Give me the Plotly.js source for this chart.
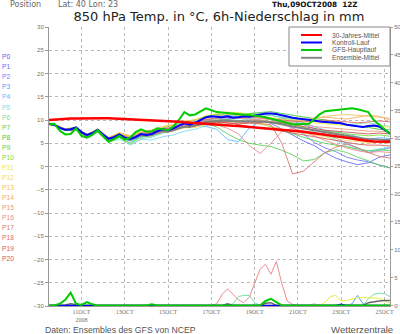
<!DOCTYPE html>
<html><head><meta charset="utf-8">
<script src="https://cdn.plot.ly/plotly-3.0.1.min.js"></script>
<style>html,body{margin:0;padding:0;background:#fff}#chart{width:400px;height:334px}</style>
</head><body><div id="chart"></div>
<script>
// ---------- DATA ----------
const runStart = Date.UTC(2008, 9, 9, 12);           // Thu 09OCT2008 12Z
const tickDates  = ['2008-10-11','2008-10-13','2008-10-15','2008-10-17','2008-10-19','2008-10-21','2008-10-23','2008-10-25'];
const tickLabels = ['11OCT<br>2008','13OCT','15OCT','17OCT','19OCT','21OCT','23OCT','25OCT'];
const memberLabels = ['P0','P1','P2','P3','P4','P5','P6','P7','P8','P9','P10','P11','P12','P13','P14','P15','P16','P17','P18','P19','P20'];
const memberColors = ['#5c5cf0','#6a6aff','#7878ff','#5a9cff','#5cbcff','#7cdcf0','#7ce0a8','#5cd05c','#3cc83c','#50d850','#78e040','#ecec40','#f4d860','#f4c460','#f4ac6c','#ec9c7c','#ec8c8c','#d47c74','#dc6c6c','#d46060','#cc5858'];

// 6-hourly main lines (°C)
const climMean = [10.0,10.1,10.15,10.2,10.3,10.3,10.35,10.4,10.4,10.4,10.4,10.4,10.35,10.3,10.25,10.2,10.15,10.1,10.05,10.0,9.9,9.85,9.8,9.7,9.6,9.5,9.4,9.3,9.2,9.15,9.05,9.0,8.9,8.85,8.75,8.7,8.6,8.55,8.45,8.4,8.3,8.2,8.1,8.0,7.9,7.75,7.6,7.45,7.3,7.15,7.0,6.8,6.6,6.45,6.3,6.15,6.0,5.8,5.6,5.5,5.4,5.35,5.3,5.3];
const controlRun = [9.2,9.0,8.3,7.9,8.0,8.4,7.4,6.8,7.2,7.9,6.9,6.0,6.3,6.9,6.2,5.9,6.3,7.0,6.8,7.0,7.6,8.0,7.8,8.2,8.8,9.3,9.0,9.4,10.0,10.6,10.8,10.7,10.6,10.8,10.5,10.6,10.8,10.7,10.9,11.2,11.4,11.4,11.3,11.0,10.7,10.5,10.3,10.2,10.0,9.9,9.7,9.6,9.4,9.3,9.3,9.0,8.8,8.6,8.5,8.7,8.8,8.6,7.8,7.1];
const mainRun = [9.1,9.2,7.7,6.9,7.0,8.2,6.6,6.2,6.8,7.8,6.5,5.3,5.9,6.6,5.8,6.2,7.4,8.0,7.5,7.6,8.2,8.0,7.8,8.6,10.0,11.7,11.0,11.2,11.8,12.5,12.1,11.7,11.6,11.5,11.4,11.3,11.2,11.0,10.9,10.8,10.6,10.3,10.0,9.7,9.4,9.1,9.1,9.1,9.2,10.2,11.2,11.9,12.0,12.1,12.3,12.4,12.5,12.3,12.0,11.7,10.0,9.0,7.9,7.0];
const ensMean = [9.1,8.9,8.3,7.9,7.8,8.1,7.2,6.6,7.0,7.7,6.6,5.8,6.1,6.6,5.9,5.8,6.3,6.8,6.6,6.9,7.4,7.6,7.5,7.9,8.3,8.6,8.5,8.8,9.2,9.6,9.7,9.8,9.9,9.9,9.8,9.8,9.7,9.7,9.8,9.7,9.6,9.5,9.3,9.1,8.8,8.6,8.4,8.2,8.0,7.8,7.6,7.3,7.1,6.9,6.7,6.5,6.3,6.1,6.0,5.9,5.8,5.8,5.7,5.7];

// 6-hourly precipitation (mm)
const mainRunPrecip = [0,0,0.3,1.0,2.3,0.3,0.1,0.6,0.2,0,0,0,0,0,0,0,0,0,0,0.2,0,0,0,0,0,0,0,0,0,0,0,0,0,0,0,0,0,0,0,0,0.8,1.2,0.6,0,0,0,0,0,0,0,0,0,0,0,0,0,0,0,0,0,0,0,0,0];
const ensMeanPrecip = [0,0,0,0.1,0.3,0.1,0,0,0,0,0,0,0,0,0,0,0,0,0,0,0,0,0,0,0,0,0,0,0,0,0,0,0,0.3,0,0,0,0,0,0,0.4,0.5,0,0,0,0,0,0,0,0,0,0,0,0,0,0,0,0,0,0.5,0.7,0.8,0.9,0.9];
const controlPrecip = [0,0,0,0,0,0,0,0,0,0,0,0,0,0,0,0,0,0,0,0,0,0,0,0,0,0,0,0,0,0,0,0,0,0,0,0,0,0,0,0,0,0,0,0,0,0,0,0,0,0,0,0,0,0,0.2,0,0,0,0,0,0,0,0,0];
const p3Precip  = [0,0,0,0,0,0,0,0,0,0,0,0,0,0,0,0,0,0,0,0,0,0,0,0,0,0,0,0,0,0,0,0,0,0,0,0,0,0,0,0,0,0,0,0,0,0,0,0,0,0,0,0,0,0,0,0,0.3,1.8,0.3,0,0,0,0,0];
const p6Precip  = [0,0,0,0,0,0,0,0,0,0,0,0,0,0,0,0,0,0,0,0,0,0,0,0,0,0,0,0,0,0,0,0,0,0,0.3,1.6,1.8,1.8,0.5,0,0,0,0,0,0,0,0,0,0,0,0,0,0,0,0,0,0,0,0,1.2,2.0,2.2,2.1,1.6];
const p11Precip = [0,0,0,0,0,0,0,0,0,0,0,0,0,0,0,0,0,0,0,0,0,0,0,0,0,0,0,0,0,0,0,0,0,0,0,0,0,0,0,0,0,0,0,0,0,0,0,0,0,0,0,0.6,1.6,1.8,0.8,0.9,1.2,1.4,1.4,1.4,1.3,1.3,0.8,0.4];
const p14Precip = [0,0,0,0,0,0,0,0,0,0,0,0,0,0,0,0,0,0,0,0,0,0,0,0,0,0,0,0,0,0,0,0,0,0,0,0,0,0,0,0,0,0,0,0,0,0,0,0,0,0.3,0,0,0,0,0,0,0,0,0,0,0,0,0,0];
const p16Precip = [0,0,0,0,0,0,0,0,0,0,0,0,0,0,0,0,0,0,0,0,0,0,0,0,0,0,0,0,0,0,0,0.3,2.0,3.0,2.0,1.0,0.5,1.5,4.0,6.5,7.4,5.6,7.9,4.0,0.8,0.2,0,0,0,0,0,0,0,0,0,0,0,0,0,0,0,0,0,0];

// ensemble members P1..P20 (°C), at run start then every 12 h (06Z / 18Z)
const p1  = [9.2,8.9,7.9,8.2,6.7,7.8,5.9,6.8,6.0,7.0,7.2,7.9,8.3,9.0,9.2,10.0,10.3,10.5,10.4,10.2,10.0,9.3,8.0,6.8,5.5,4.5,3.0,1.8,1.0,0.4,0.8,2.0,2.5];
const p2  = [9.1,8.8,7.8,8.0,6.5,7.6,5.6,6.4,5.5,6.5,6.7,7.3,7.7,8.4,8.7,9.4,9.9,10.2,10.6,11.0,10.8,10.2,9.2,8.3,7.0,5.2,4.0,3.2,2.0,1.4,1.0,0.4,-0.3];
const p3  = [9.1,8.9,8.0,8.3,6.8,7.9,6.0,6.9,6.2,7.2,7.4,8.1,8.6,9.3,9.6,10.4,10.9,11.0,10.7,10.9,11.2,11.0,10.5,9.8,9.0,8.2,7.0,6.1,5.0,4.0,3.0,3.5,4.0];
const p4  = [9.1,8.9,7.9,8.1,6.6,7.6,5.7,6.4,5.4,6.3,6.6,7.4,7.9,8.8,9.0,8.6,8.0,5.8,5.3,8.3,9.6,10.2,10.4,10.0,9.4,8.6,7.8,7.4,7.0,6.4,5.8,6.2,6.0];
const p5  = [9.2,9.0,8.0,8.2,6.7,7.5,5.4,6.2,4.6,5.8,5.7,6.4,6.8,7.6,8.0,8.8,9.2,9.6,9.8,10.3,10.5,10.4,10.0,9.6,8.6,7.4,6.6,5.6,4.4,3.6,3.2,3.8,4.2];
const p6  = [9.1,8.8,7.7,7.9,6.4,7.3,5.2,5.9,4.8,6.0,6.3,7.2,7.7,8.5,9.0,9.9,10.4,10.8,11.2,11.4,11.3,11.0,10.6,10.2,10.0,9.8,9.6,9.3,9.0,9.2,9.4,9.0,8.6];
const p7  = [9.1,8.8,7.8,8.0,6.4,7.4,5.5,6.3,5.0,6.4,6.6,7.5,7.8,8.6,8.8,9.2,8.5,7.0,5.8,5.0,4.6,4.3,3.5,2.5,1.2,1.5,3.0,3.6,3.0,2.0,1.2,0.3,-0.3];
const p8  = [9.2,9.0,8.1,8.4,6.9,8.0,6.2,7.1,6.4,7.4,7.6,8.3,8.9,9.6,10.0,10.8,11.2,11.3,11.0,11.4,11.6,11.8,11.4,11.0,10.6,10.3,10.0,9.6,9.0,8.6,8.4,8.0,7.9];
const p9  = [9.1,8.9,7.9,8.1,6.5,7.7,5.7,6.5,5.6,6.7,6.8,7.6,7.9,8.7,8.9,9.7,10.0,10.1,9.9,9.6,9.2,8.6,7.8,7.0,6.3,5.6,5.0,4.6,4.2,3.8,3.4,3.6,3.4];
const p10 = [9.1,8.9,7.9,8.1,6.6,7.8,5.9,6.7,5.9,6.9,7.0,7.7,8.0,8.6,8.7,9.4,9.6,9.7,9.5,9.6,9.8,9.7,9.4,9.0,8.4,7.8,7.6,7.4,7.0,6.8,6.6,6.8,6.5];
const p11 = [9.2,9.0,8.1,8.4,6.9,8.1,6.3,7.2,6.6,7.6,7.8,8.5,9.0,9.7,10.1,10.9,11.4,11.7,11.6,11.2,10.8,10.5,10.2,10.0,9.6,9.4,9.2,9.0,8.8,8.6,8.6,8.5,8.5];
const p12 = [9.1,8.9,7.8,8.0,6.5,7.5,5.6,6.5,5.7,6.7,6.9,7.4,7.7,8.3,8.4,9.0,9.3,9.6,9.8,9.5,9.1,8.7,8.0,7.6,7.2,6.8,6.4,6.0,5.6,5.4,5.0,5.2,5.0];
const p13 = [9.2,9.0,8.0,8.3,6.8,8.0,6.2,7.3,6.6,7.6,7.8,8.6,9.0,9.8,10.0,10.6,10.9,11.2,11.0,10.8,10.5,10.3,10.0,9.8,9.9,10.4,10.8,11.0,11.2,11.0,10.8,10.6,10.4];
const p14 = [9.2,9.0,8.0,8.2,6.7,7.9,6.1,7.0,6.3,7.3,7.5,8.2,8.6,9.2,9.4,10.2,10.5,10.6,10.4,10.2,10.0,9.6,9.4,9.6,10.0,10.4,10.6,10.4,10.2,10.6,11.0,10.8,10.0];
const p15 = [9.1,8.9,7.9,8.1,6.6,7.7,5.9,6.8,6.0,7.0,7.2,7.8,8.1,8.8,9.1,9.8,10.0,9.9,9.6,9.8,10.0,10.1,9.8,9.4,9.0,8.6,8.4,8.2,8.0,7.8,7.6,7.6,7.4];
const p16 = [9.1,8.9,7.9,8.0,6.5,7.6,5.7,6.6,5.8,6.8,7.0,7.6,8.0,8.7,8.9,9.4,9.0,8.2,7.0,4.5,2.8,5.0,7.5,8.2,7.6,6.6,5.6,4.8,4.0,3.4,3.0,3.2,3.0];
const p17 = [9.1,8.9,7.8,8.0,6.5,7.6,5.7,6.5,5.7,6.7,6.8,7.5,7.9,8.6,8.9,9.6,9.8,9.7,9.6,9.4,9.2,9.0,5.0,-1.6,-1.0,1.0,3.0,4.2,4.8,4.0,3.0,2.2,1.8];
const p18 = [9.2,9.0,8.0,8.2,6.7,7.8,6.0,6.9,6.1,7.1,7.3,8.0,8.4,9.1,9.4,10.1,10.4,10.6,10.5,10.6,10.4,10.2,10.0,9.8,9.6,9.8,10.0,9.8,9.6,9.4,9.6,9.8,9.6];
const p19 = [9.1,8.9,7.9,8.1,6.6,7.7,5.8,6.7,5.9,6.9,7.0,7.7,8.0,8.6,8.8,9.5,9.6,9.4,9.0,8.6,8.2,8.0,7.6,7.2,6.8,6.4,6.0,5.6,5.2,4.8,4.6,4.6,4.4];
const p20 = [9.1,8.9,7.8,8.1,6.5,7.6,5.6,6.6,5.8,6.8,7.0,7.6,7.9,8.5,8.7,9.3,9.5,9.4,9.2,9.3,9.4,9.6,9.4,9.0,8.6,8.2,7.8,7.6,7.4,7.2,7.0,7.2,7.0];

const legendNames  = ['30-Jahres-Mittel','Kontroll-Lauf','GFS-Hauptlauf','Ensemble-Mittel'];
const legendColors = ['#ff0000','#0000ff','#00cc00','#888888'];

// ---------- BUILD ----------
function stamp(h){ return new Date(runStart + h*3600000).toISOString().slice(0,16).replace('T',' '); }
const hoursMain = []; for (let h = 0; h <= 378; h += 6) hoursMain.push(h);
const hoursMember = [0]; for (let h = 6; h <= 378; h += 12) hoursMember.push(h);
const tMain = hoursMain.map(stamp), tMem = hoursMember.map(stamp);

const members = [p1,p2,p3,p4,p5,p6,p7,p8,p9,p10,p11,p12,p13,p14,p15,p16,p17,p18,p19,p20];
const memberPrecip = {3:p3Precip, 6:p6Precip, 11:p11Precip, 14:p14Precip, 16:p16Precip};

const traces = [];
Object.keys(memberPrecip).forEach(k => {
  traces.push({x:tMain, y:memberPrecip[k], yaxis:'y2', mode:'lines', line:{color:memberColors[+k], width:1}, hoverinfo:'skip'});
});
members.forEach((m,i) => {
  traces.push({x:tMem, y:m, mode:'lines', line:{color:memberColors[i+1], width:0.9}, hoverinfo:'skip'});
});
traces.push({x:tMain, y:ensMeanPrecip, yaxis:'y2', mode:'lines', line:{color:'#666666', width:1.5}, hoverinfo:'skip'});
traces.push({x:tMain, y:controlPrecip, yaxis:'y2', mode:'lines', line:{color:'#0000ff', width:1.5}, hoverinfo:'skip'});
traces.push({x:tMain, y:mainRunPrecip, yaxis:'y2', mode:'lines', line:{color:'#00cc00', width:2}, hoverinfo:'skip'});
traces.push({x:tMain, y:ensMean, mode:'lines', line:{color:'#808080', width:2}, name:legendNames[3]});
traces.push({x:tMain, y:controlRun, mode:'lines', line:{color:'#0000ff', width:2}, name:legendNames[1]});
traces.push({x:tMain, y:mainRun, mode:'lines', line:{color:'#00cc00', width:2}, name:legendNames[2]});
traces.push({x:tMain, y:climMean, mode:'lines', line:{color:'#ff0000', width:2.5}, name:legendNames[0]});

// pixel helpers (plot area 49..390 x 27..306)
const PL=49, PR=390, PT=27, PB=306;
const px = x => (x-PL)/(PR-PL), py = y => (PB-y)/(PB-PT);

const ann = [];
memberLabels.forEach((lab,i) => ann.push({xref:'paper', yref:'paper', x:px(1), y:py(56.7+10.07*i), xanchor:'left', yanchor:'middle', text:lab, showarrow:false, borderpad:0, font:{family:'Liberation Sans', size:6.7, color:memberColors[i]}}));
ann.push({xref:'paper', yref:'paper', x:px(9), y:py(4), xanchor:'left', yanchor:'middle', text:'Position', showarrow:false, borderpad:0, font:{family:'DejaVu Sans', size:8, color:'#666'}});
ann.push({xref:'paper', yref:'paper', x:px(57), y:py(4), xanchor:'left', yanchor:'middle', text:'Lat: 40 Lon: 23', showarrow:false, borderpad:0, font:{family:'DejaVu Sans', size:8, color:'#666'}});
ann.push({xref:'paper', yref:'paper', x:px(271), y:py(4), xanchor:'left', yanchor:'middle', text:'Thu,09OCT2008  12Z', showarrow:false, borderpad:0, font:{family:'DejaVu Sans', size:7.3, weight:'bold', color:'#111'}});
ann.push({xref:'paper', yref:'paper', x:px(44), y:py(329.5), xanchor:'left', yanchor:'middle', text:'Daten: Ensembles des GFS von NCEP', showarrow:false, borderpad:0, font:{family:'Liberation Sans', size:8.7, color:'#555'}});
ann.push({xref:'paper', yref:'paper', x:px(394), y:py(329.5), xanchor:'right', yanchor:'middle', text:'Wetterzentrale', showarrow:false, borderpad:0, font:{family:'Liberation Sans', size:9.6, color:'#555'}});
const legY = [35, 42.5, 50, 57.8];
const shapes = [{type:'rect', xref:'paper', yref:'paper', x0:px(289), x1:px(390), y0:py(66), y1:py(27), fillcolor:'#ffffff', line:{color:'#888', width:1}, layer:'above'}];
legendNames.forEach((n,i) => {
  shapes.push({type:'line', xref:'paper', yref:'paper', x0:px(301), x1:px(322), y0:py(legY[i]), y1:py(legY[i]), line:{color:legendColors[i], width:2}, layer:'above'});
  ann.push({xref:'paper', yref:'paper', x:px(331), y:py(legY[i]), xanchor:'left', yanchor:'middle', text:n, showarrow:false, borderpad:0, font:{family:'Liberation Sans', size:6.6, color:'#555'}});
});

const tickFont = {family:'Liberation Sans', size:6, color:'#707070'};
const layout = {
  width:400, height:334, margin:{l:PL, r:400-PR, t:PT, b:334-PB, pad:0},
  paper_bgcolor:'#fff', plot_bgcolor:'#fff', showlegend:false,
  title:{text:'850 hPa Temp. in °C, 6h-Niederschlag in mm', font:{family:'DejaVu Sans', size:13, color:'#222'}, xref:'container', yref:'container', x:219/400, xanchor:'center', y:1-16.5/334, yanchor:'middle'},
  xaxis:{type:'date', range:[stamp(0), stamp(378)], tickmode:'array', tickvals:tickDates, ticktext:tickLabels,
    showgrid:true, gridcolor:'#b8b8b8', griddash:'dot', gridwidth:1, showline:true, linecolor:'#9a9a9a', linewidth:1,
    ticks:'', tickfont:{family:'Liberation Sans Narrow', size:6, color:'#707070'}, zeroline:false, fixedrange:true},
  yaxis:{range:[-30,30], tickmode:'linear', tick0:-30, dtick:5, showgrid:true, gridcolor:'#b8b8b8', griddash:'dot', gridwidth:1,
    showline:true, linecolor:'#9a9a9a', linewidth:1, ticks:'outside', ticklen:3, tickcolor:'#9a9a9a', tickfont:tickFont, zeroline:false, fixedrange:true},
  yaxis2:{overlaying:'y', side:'right', range:[-0.1,50], tickmode:'linear', tick0:0, dtick:5, showgrid:false,
    showline:true, linecolor:'#9a9a9a', linewidth:1, ticks:'outside', ticklen:2, tickcolor:'#9a9a9a', tickfont:tickFont, ticklabelstandoff:0, zeroline:false, fixedrange:true},
  annotations:ann, shapes:shapes
};
Plotly.newPlot('chart', traces, layout, {staticPlot:true, displayModeBar:false});
</script></body></html>
